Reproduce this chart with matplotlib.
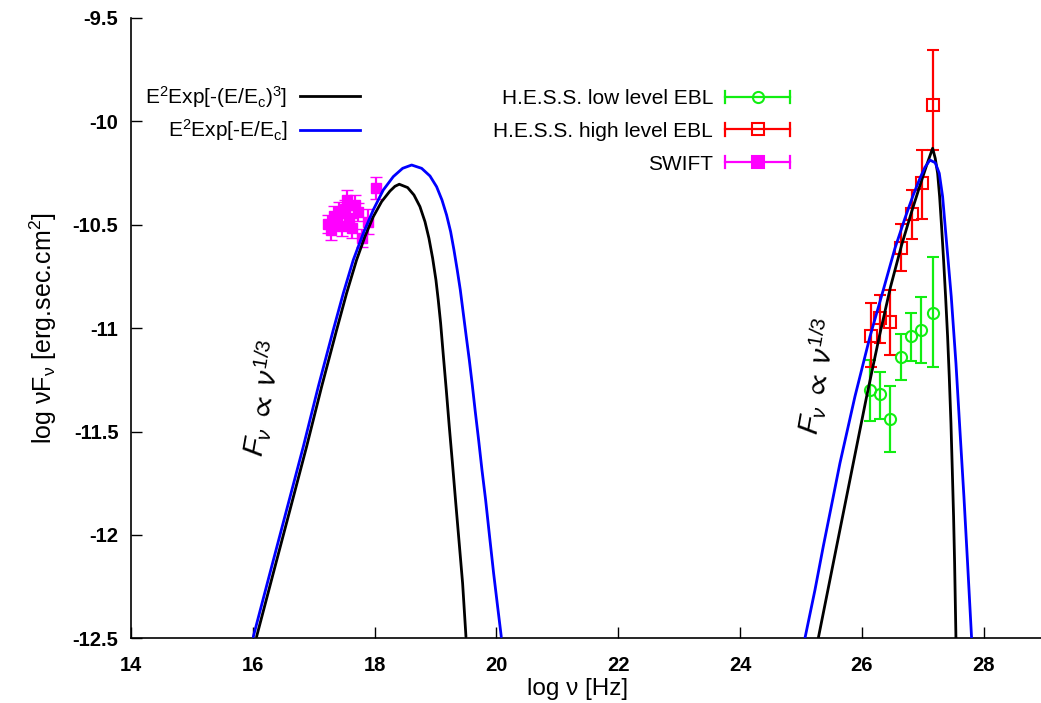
import numpy as np
import matplotlib
matplotlib.use("Agg")
import matplotlib.pyplot as plt
from matplotlib.lines import Line2D
from matplotlib.legend_handler import HandlerBase

plt.rcParams['font.family'] = ['Liberation Sans', 'DejaVu Sans']
plt.rcParams['mathtext.fontset'] = 'custom'
plt.rcParams['mathtext.rm'] = 'Liberation Sans'
plt.rcParams['mathtext.it'] = 'Liberation Sans:italic'
plt.rcParams['mathtext.bf'] = 'Liberation Sans:bold'
plt.rcParams['mathtext.default'] = 'regular'
plt.rcParams['axes.unicode_minus'] = False

# ---------------- data ----------------
# model curve E^2 Exp[-(E/Ec)^3]  (black), synchrotron hump
black_lo_x = [16.063, 16.337, 16.611, 16.884, 17.131, 17.377, 17.541, 17.705, 17.842, 17.979,
              18.116, 18.253, 18.335, 18.406, 18.543, 18.647, 18.745, 18.828, 18.893, 18.954,
              19.008, 19.046, 19.085, 19.131, 19.178, 19.227, 19.279, 19.334, 19.390, 19.446,
              19.501]
black_lo_y = [-12.492, -12.185, -11.879, -11.573, -11.283, -11.009, -10.831, -10.670, -10.557, -10.461,
              -10.388, -10.337, -10.314, -10.304, -10.320, -10.356, -10.412, -10.485, -10.565, -10.662,
              -10.767, -10.864, -10.976, -11.138, -11.299, -11.476, -11.653, -11.847, -12.040, -12.234,
              -12.492]
# model curve E^2 Exp[-(E/Ec)^3]  (black), IC hump
black_hi_x = [25.286, 25.587, 25.861, 26.080, 26.288, 26.474, 26.655, 26.819, 26.967, 27.076,
              27.164, 27.207, 27.246, 27.279, 27.311, 27.344, 27.377, 27.410, 27.437, 27.465,
              27.487, 27.508, 27.525, 27.547]
black_hi_y = [-12.500, -12.056, -11.653, -11.331, -11.041, -10.799, -10.598, -10.437, -10.300, -10.203,
              -10.130, -10.179, -10.251, -10.364, -10.509, -10.670, -10.848, -11.041, -11.234, -11.460,
              -11.686, -11.911, -12.137, -12.500]
# model curve E^2 Exp[-E/Ec]  (blue), synchrotron hump
blue_lo_x = [16.009, 16.282, 16.556, 16.830, 17.076, 17.322, 17.487, 17.651, 17.815, 17.979,
             18.143, 18.308, 18.461, 18.609, 18.773, 18.910, 19.019, 19.107, 19.183, 19.249,
             19.304, 19.358, 19.408, 19.457, 19.506, 19.556, 19.605, 19.654, 19.709, 19.764,
             19.824, 19.889, 19.955, 20.021, 20.081]
blue_lo_y = [-12.492, -12.185, -11.879, -11.573, -11.283, -11.009, -10.831, -10.670, -10.541, -10.428,
             -10.332, -10.267, -10.227, -10.211, -10.227, -10.264, -10.316, -10.380, -10.453, -10.533,
             -10.622, -10.719, -10.815, -10.928, -11.041, -11.154, -11.275, -11.404, -11.541, -11.686,
             -11.831, -12.008, -12.185, -12.347, -12.492]
# model curve E^2 Exp[-E/Ec]  (blue), IC hump
blue_hi_x = [25.067, 25.232, 25.368, 25.505, 25.642, 25.888, 26.135, 26.354, 26.545, 26.709,
             26.846, 26.956, 27.038, 27.120, 27.207, 27.273, 27.328, 27.394, 27.470, 27.547,
             27.612, 27.678, 27.738, 27.804]
blue_hi_y = [-12.500, -12.266, -12.056, -11.855, -11.653, -11.331, -11.041, -10.815, -10.614, -10.469,
             -10.356, -10.275, -10.222, -10.187, -10.200, -10.251, -10.364, -10.590, -10.848, -11.170,
             -11.492, -11.815, -12.137, -12.500]

# H.E.S.S. low level EBL
hess_low_x = [26.13, 26.30, 26.46, 26.64, 26.81, 26.98, 27.17]
hess_low_y = [-11.30, -11.32, -11.44, -11.14, -11.04, -11.01, -10.925]
hess_low_err_lo = [0.15, 0.12, 0.16, 0.11, 0.12, 0.16, 0.265]
hess_low_err_hi = [0.145, 0.11, 0.16, 0.11, 0.115, 0.16, 0.27]

# H.E.S.S. high level EBL
hess_high_x = [26.15, 26.30, 26.46, 26.65, 26.82, 26.99, 27.17]
hess_high_y = [-11.04, -10.95, -10.97, -10.61, -10.45, -10.30, -9.92]
hess_high_err_lo = [0.15, 0.12, 0.16, 0.115, 0.12, 0.17, 0.22]
hess_high_err_hi = [0.16, 0.11, 0.155, 0.115, 0.12, 0.16, 0.265]

# SWIFT
swift_x = [17.235, 17.284, 17.333, 17.383, 17.415, 17.465, 17.514, 17.547,
           17.580, 17.629, 17.678, 17.727, 17.793, 17.892, 18.023]
swift_y = [-10.496, -10.525, -10.457, -10.482, -10.438, -10.506, -10.424, -10.380,
           -10.467, -10.515, -10.404, -10.438, -10.564, -10.486, -10.322]
swift_err = [0.045, 0.05, 0.05, 0.045, 0.05, 0.05, 0.045, 0.05,
             0.05, 0.05, 0.05, 0.045, 0.045, 0.06, 0.055]

x_ticks = [14, 16, 18, 20, 22, 24, 26, 28]
x_tick_labels = ['14', '16', '18', '20', '22', '24', '26', '28']
y_ticks = [-12.5, -12, -11.5, -11, -10.5, -10, -9.5]
y_tick_labels = ['-12.5', '-12', '-11.5', '-11', '-10.5', '-10', '-9.5']

# ---------------- styles ----------------
C_BLACK = '#000000'
C_BLUE = '#0000ff'
C_GREEN = '#11ee11'
C_RED = '#ff0000'
C_MAG = '#ff00ff'
FS = 15

fig = plt.figure(figsize=(10.41, 7.03), dpi=100)
ax = fig.add_axes([0.1258, 0.0920, 0.8775, 0.8824])

ebkw = dict(ls='none', elinewidth=1.6, capsize=4, capthick=1.6)
ax.errorbar(hess_low_x, hess_low_y, yerr=[hess_low_err_lo, hess_low_err_hi],
            color=C_GREEN, marker='o', ms=8, mfc='none', mec=C_GREEN, mew=1.5, zorder=2, **ebkw)
ax.errorbar(hess_high_x, hess_high_y, yerr=[hess_high_err_lo, hess_high_err_hi],
            color=C_RED, marker='s', ms=8, mfc='none', mec=C_RED, mew=1.5, zorder=2, **ebkw)
ax.errorbar(swift_x, swift_y, yerr=swift_err,
            color=C_MAG, marker='s', ms=7, mfc=C_MAG, mec=C_MAG, mew=1.0, zorder=2, **ebkw)

lw = 2.0
for xs, ys, c in [(black_lo_x, black_lo_y, C_BLACK), (black_hi_x, black_hi_y, C_BLACK),
                  (blue_lo_x, blue_lo_y, C_BLUE), (blue_hi_x, blue_hi_y, C_BLUE)]:
    ax.plot(xs, ys, color=c, lw=lw, zorder=3, solid_joinstyle='round', solid_capstyle='round')

ax.set_xlim(14, 29)
ax.set_ylim(-12.5, -9.5)
ax.set_xticks(x_ticks)
ax.set_xticklabels(x_tick_labels)
ax.set_yticks(y_ticks)
ax.set_yticklabels(y_tick_labels)
ax.tick_params(axis='both', direction='in', length=8, width=1.0, labelsize=14.5)
ax.tick_params(axis='x', pad=13)
ax.tick_params(axis='y', pad=9)
for lab in ax.get_xticklabels() + ax.get_yticklabels():
    lab.set_fontweight('bold')
ax.spines['top'].set_visible(False)
ax.spines['right'].set_visible(False)
for s in ('left', 'bottom'):
    ax.spines[s].set_linewidth(1.2)

ax.set_xlabel('log ν [Hz]', fontsize=17.5)
ax.xaxis.set_label_coords((578 - 131) / (1044.5 - 131), -0.064)
ax.set_ylabel('log νF$_ν$ [erg.sec.cm$^2$]', fontsize=18, labelpad=10)

# rotated annotations
ann = r'$\mathit{F}_{\mathit{\nu}}\;\propto\;\mathit{\nu}^{\mathit{1/3}}$'
ax.text(16.17, -11.34, ann, rotation=80, fontsize=21, ha='center', va='center')
ax.text(25.27, -11.23, ann, rotation=80, fontsize=21, ha='center', va='center')

# legends (gnuplot-like: text then sample, right aligned)
h_curves = [Line2D([], [], color=C_BLACK, lw=lw), Line2D([], [], color=C_BLUE, lw=lw)]
l_curves = ['E$^2$Exp[-(E/E$_c$)$^3$]', 'E$^2$Exp[-E/E$_c$]']
leg1 = fig.legend(h_curves, l_curves, loc='upper right', bbox_to_anchor=(360/1041, 1-84/703),
                  frameon=False, markerfirst=False, fontsize=FS, handlelength=2.9,
                  handletextpad=0.6, labelspacing=0.36, borderpad=0, borderaxespad=0)


class HandlerGnuErr(HandlerBase):
    def create_artists(self, legend, orig_handle, xdescent, ydescent, width, height,
                       fontsize, trans):
        c = orig_handle.get_color()
        y = (height - ydescent) / 2.0
        x0 = -xdescent
        x1 = -xdescent + width
        cap = 0.42 * height
        arts = [Line2D([x0, x1], [y, y], color=c, lw=1.6),
                Line2D([x0, x0], [y - cap, y + cap], color=c, lw=1.6),
                Line2D([x1, x1], [y - cap, y + cap], color=c, lw=1.6),
                Line2D([(x0 + x1) / 2], [y], ls='none', marker=orig_handle.get_marker(),
                       ms=orig_handle.get_markersize(), mfc=orig_handle.get_markerfacecolor(),
                       mec=c, mew=1.5)]
        for a in arts:
            a.set_transform(trans)
        return arts


h_data = [Line2D([], [], color=C_GREEN, marker='o', ms=8, mfc='none'),
          Line2D([], [], color=C_RED, marker='s', ms=8, mfc='none'),
          Line2D([], [], color=C_MAG, marker='s', ms=8, mfc=C_MAG)]
l_data = ['H.E.S.S. low level EBL', 'H.E.S.S. high level EBL', 'SWIFT']
leg2 = fig.legend(h_data, l_data, loc='upper right', bbox_to_anchor=(790/1041, 1-89/703),
                  frameon=False, markerfirst=False, fontsize=FS, handlelength=3.1,
                  handletextpad=0.6, labelspacing=0.66, borderpad=0, borderaxespad=0,
                  handler_map={Line2D: HandlerGnuErr()})

fig.savefig('out.png', dpi=100)
